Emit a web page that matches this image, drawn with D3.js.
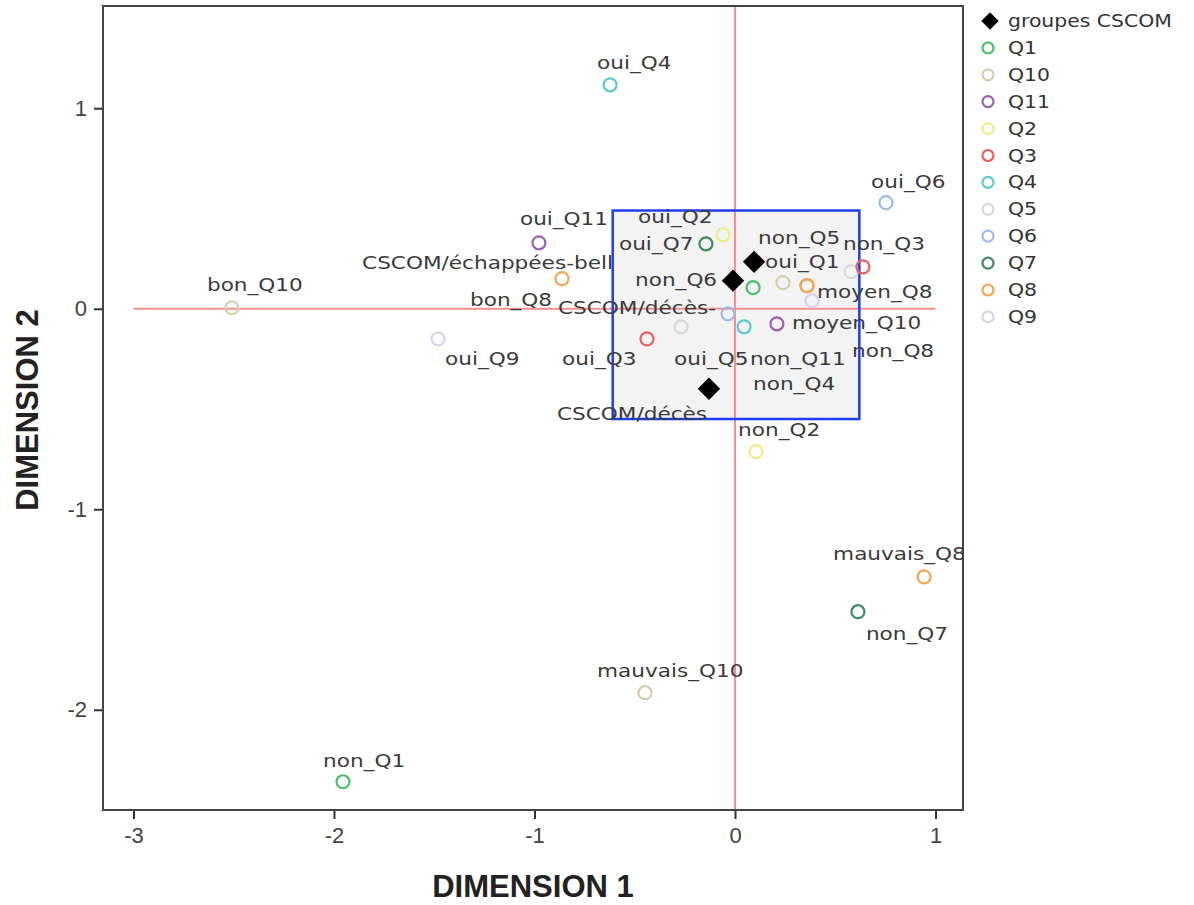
<!DOCTYPE html>
<html>
<head>
<meta charset="utf-8">
<script src="https://cdn.jsdelivr.net/npm/d3@7"></script>
<style>
  body { margin: 0; background: #fff; }
  text { font-family: "DejaVu Sans", sans-serif; }
</style>
</head>
<body>
<script>
// legend order (as in the SPSS legend)
const questions = ["Q1", "Q10", "Q11", "Q2", "Q3", "Q4", "Q5", "Q6", "Q7", "Q8", "Q9"]
const questionColors = ["#4cbf6b", "#d6cfae", "#9d5fb0", "#eeee88", "#e8605f", "#5cc9cf",
                        "#d9d9d9", "#9dbbe3", "#3f8c63", "#f2a655", "#dcd0f2"]

// groupes CSCOM (diamonds)
const groupLabels = ["CSCOM/échappées-bell", "CSCOM/décès-", "CSCOM/décès"]
const groupDim1 = [0.095, -0.01, -0.13]
const groupDim2 = [0.234, 0.14, -0.399]

// category points
const catLabels = ["oui_Q4", "oui_Q6", "oui_Q11", "bon_Q8", "bon_Q10", "oui_Q9", "oui_Q2", "oui_Q7",
                   "oui_Q1", "moyen_Q10", "moyen_Q8", "non_Q8", "non_Q5", "non_Q3", "non_Q9", "non_Q6",
                   "non_Q4", "non_Q11", "oui_Q5", "oui_Q3", "non_Q2", "mauvais_Q8", "non_Q7",
                   "mauvais_Q10", "non_Q1"]
const catDim1 = [-0.623, 0.753, -0.978, -0.863, -2.509, -1.481, -0.06, -0.145,
                 0.09, 0.239, 0.359, 0.359, 0.579, 0.638, 0.384, -0.035,
                 0.045, 0.209, -0.269, -0.439, 0.105, 0.943, 0.613,
                 -0.449, -1.955]
const catDim2 = [1.117, 0.529, 0.329, 0.15, 0.005, -0.15, 0.369, 0.324,
                 0.105, 0.13, 0.115, 0.115, 0.185, 0.209, 0.04, -0.025,
                 -0.09, -0.075, -0.09, -0.15, -0.713, -1.337, -1.511,
                 -1.915, -2.359]

const xTicks = [-3, -2, -1, 0, 1]
const yTicks = [-2, -1, 0, 1]

// pixel offsets of the labels from their point (layout only)
const labelOffset = {
  "oui_Q4": [-13, -16], "oui_Q6": [-15, -15], "oui_Q11": [-19, -18], "bon_Q8": [-92, 27],
  "bon_Q10": [-25, -17], "oui_Q9": [7, 26], "oui_Q2": [-85, -12], "oui_Q7": [-87, 6],
  "oui_Q1": [12, -20], "moyen_Q10": [9, 46], "moyen_Q8": [10, 12], "non_Q8": [45, 71],
  "non_Q5": [-93, -28], "non_Q3": [-20, -17], "non_Q6": [-93, -28], "non_Q4": [9, 63],
  "non_Q11": [-27, 41], "oui_Q5": [-7, 38], "oui_Q3": [-85, 26], "non_Q2": [-18, -16],
  "mauvais_Q8": [-91, -17], "non_Q7": [8, 28], "mauvais_Q10": [-48, -16], "non_Q1": [-20, -15],
  "CSCOM/échappées-bell": [-392, 7], "CSCOM/décès-": [-175, 33], "CSCOM/décès": [-152, 31]
}

// highlighted zone (data coords)
const zoneDim1 = [-0.61, 0.62]
const zoneDim2 = [-0.55, 0.49]

const W = 1194, H = 905
const svg = d3.select("body").append("svg").attr("width", W).attr("height", H)

const x = d3.scaleLinear().domain([-3.152, 1.137]).range([103, 963])
const y = d3.scaleLinear().domain([-2.5, 1.51]).range([810, 6])
const color = d3.scaleOrdinal().domain(questions).range(questionColors)

const groups = groupLabels.map((l, i) => ({label: l, d1: groupDim1[i], d2: groupDim2[i]}))
const cats = catLabels.map((l, i) => ({label: l, d1: catDim1[i], d2: catDim2[i], q: l.split("_")[1]}))

svg.append("clipPath").attr("id", "plotclip")
  .append("rect")
  .attr("x", x.range()[0]).attr("y", y.range()[1])
  .attr("width", x.range()[1] - x.range()[0])
  .attr("height", y.range()[0] - y.range()[1])

// zone rectangle
svg.append("rect")
  .attr("x", x(zoneDim1[0])).attr("y", y(zoneDim2[1]))
  .attr("width", x(zoneDim1[1]) - x(zoneDim1[0]))
  .attr("height", y(zoneDim2[0]) - y(zoneDim2[1]))
  .attr("fill", "#f3f3f3")

// reference lines
svg.append("line")
  .attr("x1", x(-3)).attr("x2", x(1)).attr("y1", y(0)).attr("y2", y(0))
  .attr("stroke", "#f29090").attr("stroke-width", 2)
svg.append("line")
  .attr("x1", x(0)).attr("x2", x(0)).attr("y1", y.range()[1]).attr("y2", y.range()[0])
  .attr("stroke", "#f29090").attr("stroke-width", 2)

svg.append("rect")
  .attr("x", x(zoneDim1[0])).attr("y", y(zoneDim2[1]))
  .attr("width", x(zoneDim1[1]) - x(zoneDim1[0]))
  .attr("height", y(zoneDim2[0]) - y(zoneDim2[1]))
  .attr("fill", "none").attr("stroke", "#1f3ef2").attr("stroke-width", 2.5)

// axes
const xAxis = svg.append("g")
  .attr("transform", "translate(0," + y.range()[0] + ")")
  .call(d3.axisBottom(x).tickValues(xTicks).tickSize(9).tickPadding(8).tickFormat(d => String(d)))
const yAxis = svg.append("g")
  .attr("transform", "translate(" + x.range()[0] + ",0)")
  .call(d3.axisLeft(y).tickValues(yTicks).tickSize(9).tickPadding(7).tickFormat(d => String(d)))
;[xAxis, yAxis].forEach(function(a){
  a.attr("font-size", 22).attr("font-family", "Liberation Sans, sans-serif")
  a.select(".domain").remove()
  a.selectAll(".tick line").attr("stroke", "#333").attr("stroke-width", 2)
  a.selectAll(".tick text").attr("fill", "#444")
    .style("font-family", "Liberation Sans, sans-serif").style("font-size", "22px")
})

// frame
svg.append("rect")
  .attr("x", x.range()[0]).attr("y", y.range()[1])
  .attr("width", x.range()[1] - x.range()[0])
  .attr("height", y.range()[0] - y.range()[1])
  .attr("fill", "none").attr("stroke", "#444").attr("stroke-width", 2)

// category points
svg.append("g").selectAll("circle")
  .data(cats)
  .join("circle")
  .attr("cx", d => x(d.d1))
  .attr("cy", d => y(d.d2))
  .attr("r", 6.5)
  .attr("fill", "none")
  .attr("stroke", d => color(d.q))
  .attr("stroke-width", 2.2)

// group diamonds
svg.append("g").selectAll("path")
  .data(groups)
  .join("path")
  .attr("d", d3.symbol(d3.symbolSquare, 250))
  .attr("transform", d => "translate(" + x(d.d1) + "," + y(d.d2) + ") rotate(45)")
  .attr("fill", "#000")

// labels
const labelled = cats.concat(groups).filter(d => labelOffset[d.label])
svg.append("g").attr("clip-path", "url(#plotclip)")
  .selectAll("g")
  .data(labelled)
  .join("g")
  .attr("transform", function(d){
    const o = labelOffset[d.label]
    return "translate(" + (x(d.d1) + o[0]) + "," + (y(d.d2) + o[1]) + ")"
  })
  .append("text")
  .attr("transform", "scale(1.2,1)")
  .style("font-size", "18px")
  .attr("fill", "#3a3a3a")
  .text(d => d.label)

// axis titles
svg.append("text")
  .attr("x", 533).attr("y", 897)
  .attr("text-anchor", "middle")
  .style("font-family", "Liberation Sans, sans-serif")
  .style("font-size", "31px").style("font-weight", "bold")
  .attr("fill", "#222")
  .text("DIMENSION 1")
svg.append("text")
  .attr("transform", "translate(38,410) rotate(-90)")
  .attr("text-anchor", "middle")
  .style("font-family", "Liberation Sans, sans-serif")
  .style("font-size", "31px").style("font-weight", "bold")
  .attr("fill", "#222")
  .text("DIMENSION 2")

// legend
const legendItems = ["groupes CSCOM"].concat(questions)
const legend = svg.append("g").selectAll("g")
  .data(legendItems)
  .join("g")
  .attr("transform", (d, i) => "translate(988," + (21 + i * 26.9) + ")")
legend.filter((d, i) => i === 0).append("path")
  .attr("d", d3.symbol(d3.symbolSquare, 150))
  .attr("transform", "translate(2,0) rotate(45)")
  .attr("fill", "#000")
legend.filter((d, i) => i > 0).append("circle")
  .attr("r", 5.5)
  .attr("fill", "none")
  .attr("stroke", d => color(d))
  .attr("stroke-width", 2.2)
legend.append("g").attr("transform", "translate(20,6)")
  .append("text")
  .attr("transform", "scale(1.2,1)")
  .style("font-size", "17px")
  .attr("fill", "#333")
  .text(d => d)
</script>
</body>
</html>
